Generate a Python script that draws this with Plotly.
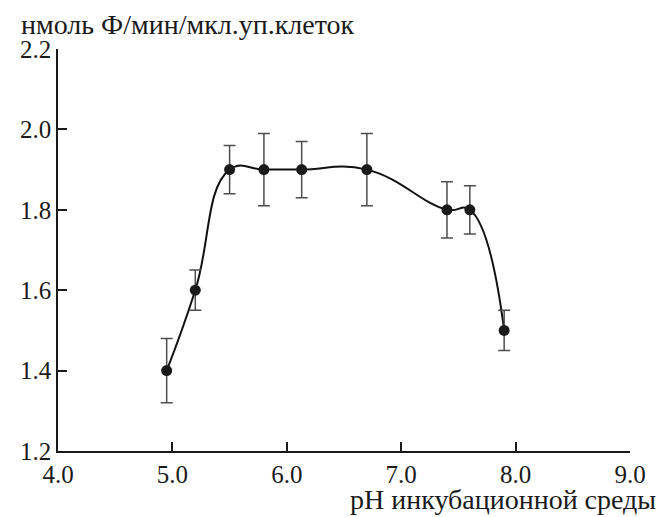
import plotly.graph_objects as go

ph = [4.95, 5.2, 5.5, 5.8, 6.13, 6.7, 7.4, 7.6, 7.9]
activity = [1.4, 1.6, 1.9, 1.9, 1.9, 1.9, 1.8, 1.8, 1.5]
err_plus = [0.08, 0.05, 0.06, 0.09, 0.07, 0.09, 0.07, 0.06, 0.05]
err_minus = [0.08, 0.05, 0.06, 0.09, 0.07, 0.09, 0.07, 0.06, 0.05]

x_ticks = [4.0, 5.0, 6.0, 7.0, 8.0, 9.0]
x_ticklabels = ["4.0", "5.0", "6.0", "7.0", "8.0", "9.0"]
y_ticks = [1.2, 1.4, 1.6, 1.8, 2.0, 2.2]
y_ticklabels = ["1.2", "1.4", "1.6", "1.8", "2.0", "2.2"]

y_title = "нмоль Ф/мин/мкл.уп.клеток"
x_title = "pH инкубационной среды"

FONT = "Liberation Serif"
FS = 25
TFS = 28

fig = go.Figure()
fig.add_trace(go.Scatter(
    x=ph, y=activity, mode="lines",
    line=dict(color="#111111", width=2, shape="spline", smoothing=1.3),
    hoverinfo="skip", showlegend=False,
))
fig.add_trace(go.Scatter(
    x=ph, y=activity, mode="markers",
    marker=dict(color="#1a1a1a", size=11),
    error_y=dict(type="data", symmetric=False, array=err_plus, arrayminus=err_minus,
                 color="#4d4d4d", thickness=1.5, width=6),
    showlegend=False,
))

# page body has an 8px margin, so the figure is sized/placed to compensate
fig.update_layout(
    width=657, height=509,
    margin=dict(l=45, r=35, t=41, b=66),
    paper_bgcolor="white", plot_bgcolor="white",
    font=dict(family=FONT, size=FS, color="#1a1a1a"),
    xaxis=dict(range=[4.0, 9.0], tickvals=x_ticks, ticktext=x_ticklabels,
               showgrid=False, zeroline=False, showline=True, linecolor="#1a1a1a",
               linewidth=1.5, ticks="inside", ticklen=9, tickcolor="#1a1a1a",
               tickwidth=1.5, tickfont=dict(family=FONT, size=FS, color="#1a1a1a")),
    yaxis=dict(range=[1.2, 2.2], tickvals=y_ticks, ticktext=y_ticklabels,
               showgrid=False, zeroline=False, showline=True, linecolor="#1a1a1a",
               linewidth=1.5, ticks="inside", ticklen=9, tickcolor="#1a1a1a",
               tickwidth=1.5, tickfont=dict(family=FONT, size=FS, color="#1a1a1a")),
    annotations=[
        dict(text=y_title, xref="paper", yref="paper", x=-0.069, y=1.062,
             xanchor="left", yanchor="middle", showarrow=False,
             font=dict(family=FONT, size=TFS, color="#1a1a1a")),
        dict(text=x_title, xref="paper", yref="paper", x=1.0485, y=-0.12,
             xanchor="right", yanchor="middle", showarrow=False,
             font=dict(family=FONT, size=TFS, color="#1a1a1a")),
    ],
)

fig.write_html("out.html")
